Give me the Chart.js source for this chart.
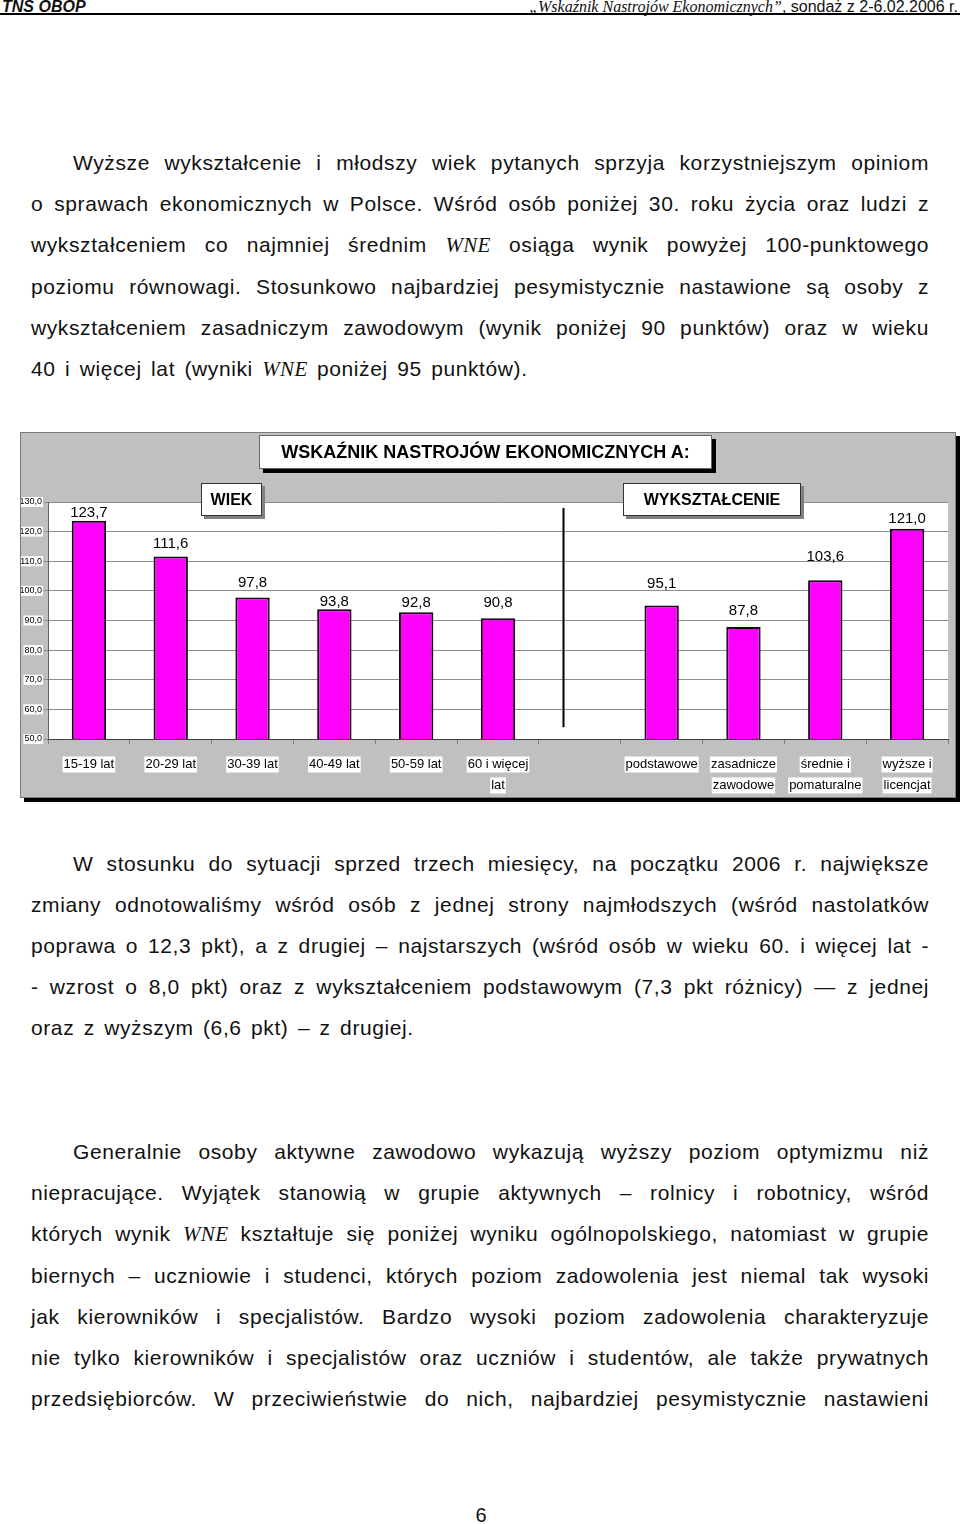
<!DOCTYPE html>
<html lang="pl">
<head>
<meta charset="utf-8">
<title>WNE – wiek i wykształcenie</title>
<script src="https://cdn.jsdelivr.net/npm/chart.js@4.4.1/dist/chart.umd.min.js"></script>
<style>
  body { margin: 0; background: #fff; }
  #page {
    position: relative; width: 960px; height: 1524px; overflow: hidden;
    font-family: "Liberation Sans", Arial, sans-serif; color: #111;
  }
  .hdr { position: absolute; top: -1px; font-size: 16px; line-height: 16px; white-space: nowrap; }
  .hdr-left { left: 2px; font-weight: bold; font-style: italic; }
  .hdr-right { right: 2px; }
  .serif-i { font-family: "Liberation Serif", "Times New Roman", serif; font-style: italic; }
  .rule { position: absolute; left: 0; top: 13px; width: 960px; height: 2px; background: #000; }

  .para {
    position: absolute; left: 31px; width: 898px; font-size: 21px; line-height: 41px;
    letter-spacing: 0.6px; word-spacing: 3px;
  }
  .ln { white-space: nowrap; text-align: justify; text-align-last: justify; }
  .ln.first { padding-left: 42px; }
  .ln.last { text-align-last: left; }
  .wne { font-family: "Liberation Serif", "Times New Roman", serif; font-style: italic; letter-spacing: 0.3px; }

  #chartBox {
    position: absolute; left: 20px; top: 432px; width: 934px; height: 364px;
    background: #c0c0c0; border: 1px solid #7a7a7a; box-shadow: 4px 4px 0 #000;
  }
  #chartBox canvas { position: absolute; left: 0; top: 0; }
  .tag {
    position: absolute; background: #fff; font-weight: bold; text-align: center;
    color: #000; white-space: nowrap;
  }
  #mainTitle {
    left: 238px; top: 2px; width: 451px; height: 32px; line-height: 32px; font-size: 18px;
    border: 1px solid #666; box-shadow: 4px 4px 0 #000;
  }
  #tagAge, #tagEdu {
    top: 50px; height: 31px; line-height: 31px; font-size: 16px;
    border: 1px solid #333; box-shadow: 3px 3px 0 #808080;
  }
  #tagAge { left: 180px; width: 59px; }
  #tagEdu { left: 602px; width: 176px; }
  #pageNo { position: absolute; left: 0; width: 962px; top: 1503px; text-align: center; font-size: 20px; line-height: 24px; }
</style>
</head>
<body>
<div id="page">
  <div class="hdr hdr-left">TNS OBOP</div>
  <div class="hdr hdr-right"><span class="serif-i">„Wskaźnik Nastrojów Ekonomicznych”</span>, sondaż z 2-6.02.2006 r.</div>
  <div class="rule"></div>

  <div class="para" style="top:142px">
    <div class="ln first">Wyższe wykształcenie i młodszy wiek pytanych sprzyja korzystniejszym opiniom</div>
    <div class="ln">o sprawach ekonomicznych w Polsce. Wśród osób poniżej 30. roku życia oraz ludzi z</div>
    <div class="ln">wykształceniem co najmniej średnim <span class="wne">WNE</span> osiąga wynik powyżej 100-punktowego</div>
    <div class="ln">poziomu równowagi. Stosunkowo najbardziej pesymistycznie nastawione są osoby z</div>
    <div class="ln">wykształceniem zasadniczym zawodowym (wynik poniżej 90 punktów) oraz w wieku</div>
    <div class="ln last">40 i więcej lat (wyniki <span class="wne">WNE</span> poniżej 95 punktów).</div>
  </div>

  <div id="chartBox">
    <canvas id="wneChart" width="934" height="364"></canvas>
    <div class="tag" id="mainTitle">WSKAŹNIK NASTROJÓW EKONOMICZNYCH A:</div>
    <div class="tag" id="tagAge">WIEK</div>
    <div class="tag" id="tagEdu">WYKSZTAŁCENIE</div>
  </div>

  <div class="para" style="top:843px">
    <div class="ln first">W stosunku do sytuacji sprzed trzech miesięcy, na początku 2006 r. największe</div>
    <div class="ln">zmiany odnotowaliśmy wśród osób z jednej strony najmłodszych (wśród nastolatków</div>
    <div class="ln">poprawa o 12,3 pkt), a z drugiej – najstarszych (wśród osób w wieku 60. i więcej lat -</div>
    <div class="ln">- wzrost o 8,0 pkt) oraz z wykształceniem podstawowym (7,3 pkt różnicy) — z jednej</div>
    <div class="ln last">oraz z wyższym (6,6 pkt) – z drugiej.</div>
  </div>

  <div class="para" style="top:1131px">
    <div class="ln first">Generalnie osoby aktywne zawodowo wykazują wyższy poziom optymizmu niż</div>
    <div class="ln">niepracujące. Wyjątek stanowią w grupie aktywnych – rolnicy i robotnicy, wśród</div>
    <div class="ln">których wynik <span class="wne">WNE</span> kształtuje się poniżej wyniku ogólnopolskiego, natomiast w grupie</div>
    <div class="ln">biernych – uczniowie i studenci, których poziom zadowolenia jest niemal tak wysoki</div>
    <div class="ln">jak kierowników i specjalistów. Bardzo wysoki poziom zadowolenia charakteryzuje</div>
    <div class="ln">nie tylko kierowników i specjalistów oraz uczniów i studentów, ale także prywatnych</div>
    <div class="ln">przedsiębiorców. W przeciwieństwie do nich, najbardziej pesymistycznie nastawieni</div>
  </div>

  <div id="pageNo">6</div>
</div>

<script>
// categories: 6 age groups, one empty gap, 4 education levels
const categories = [
  '15-19 lat', '20-29 lat', '30-39 lat', '40-49 lat', '50-59 lat', ['60 i więcej', 'lat'],
  '',
  'podstawowe', ['zasadnicze', 'zawodowe'], ['średnie i', 'pomaturalne'], ['wyższe i', 'licencjat']
];
const wneValues = [123.7, 111.6, 97.8, 93.8, 92.8, 90.8, null, 95.1, 87.8, 103.6, 121.0];
const yTicks = [50, 60, 70, 80, 90, 100, 110, 120, 130];

const FONT = '"Liberation Sans", Arial, sans-serif';
const fmt = v => v.toFixed(1).replace('.', ',');

// white plot area, label backdrops, value labels and the group separator
const decor = {
  id: 'decor',
  beforeDraw(chart, args, opts) {
    const { ctx, chartArea: a, scales: { x, y } } = chart;
    ctx.save();
    ctx.fillStyle = '#fff';
    ctx.fillRect(a.left, a.top, a.right - a.left, a.bottom - a.top);

    // the y labels sit on small white boxes
    ctx.font = '9px ' + FONT;
    y.ticks.forEach((t, i) => {
      const w = ctx.measureText(fmt(t.value)).width;
      const py = y.getPixelForTick(i);
      ctx.fillRect(y.right - 6 - w - 1, py - 5, w + 2, 10);
    });
    // same for the category labels
    ctx.font = '13px ' + FONT;
    categories.forEach((lab, i) => {
      const lines = Array.isArray(lab) ? lab : [lab];
      lines.forEach((ln, j) => {
        if (!ln) return;
        const w = ctx.measureText(ln).width;
        const cx = x.getPixelForTick(i);
        const cy = a.bottom + 15 + 21 * j + 10.5;
        ctx.fillRect(cx - w / 2 - 1, cy - 8, w + 2, 16);
      });
    });
    ctx.restore();
  },
  afterDatasetsDraw(chart, args, opts) {
    const { ctx, scales: { x, y } } = chart;
    const bars = chart.getDatasetMeta(0).data;
    ctx.save();
    ctx.font = '15px ' + FONT;
    ctx.fillStyle = '#000';
    ctx.textAlign = 'center';
    ctx.textBaseline = 'alphabetic';
    bars.forEach((bar, i) => {
      if (wneValues[i] == null) return;
      ctx.fillText(fmt(wneValues[i]), bar.x, bar.y - opts.lift[i]);
    });

    // vertical rule between the two groups
    const slot = x.getPixelForValue(1) - x.getPixelForValue(0);
    const sx = Math.round(x.getPixelForValue(6) - 0.2 * slot) + 0.5;
    ctx.strokeStyle = '#000';
    ctx.lineWidth = 2;
    ctx.beginPath();
    ctx.moveTo(sx, y.getPixelForValue(128));
    ctx.lineTo(sx, y.getPixelForValue(54));
    ctx.stroke();
    ctx.restore();
  }
};

new Chart(document.getElementById('wneChart'), {
  type: 'bar',
  data: {
    labels: categories,
    datasets: [{
      data: wneValues,
      backgroundColor: '#ff00ff',
      borderColor: '#1a001a',
      borderWidth: 2,
      borderSkipped: false,
      barPercentage: 0.42,
      categoryPercentage: 1
    }]
  },
  options: {
    responsive: false,
    animation: false,
    devicePixelRatio: 1,
    layout: { padding: { top: 69, right: 7, bottom: 0, left: 0 } },
    plugins: {
      legend: { display: false },
      tooltip: { enabled: false },
      decor: { lift: [4, 9, 10, 3, 5, 11, 0, 17, 12, 19, 6] }
    },
    scales: {
      x: {
        offset: true,
        grid: { offset: true, drawOnChartArea: false, drawTicks: true, tickLength: 5, color: '#808080' },
        border: { display: true, color: '#404040', width: 1 },
        ticks: {
          autoSkip: false, maxRotation: 0, padding: 10, color: '#000',
          font: { family: FONT, size: 13, lineHeight: '21px' }
        },
        afterFit: s => { s.height = 58; }
      },
      y: {
        min: 50, max: 130,
        afterBuildTicks: s => { s.ticks = yTicks.map(v => ({ value: v })); },
        grid: { color: '#8c8c8c', tickLength: 4, drawTicks: true },
        border: { display: true, color: '#606060', width: 1 },
        ticks: {
          padding: 2, color: '#000',
          font: { family: FONT, size: 9 },
          callback: v => fmt(v)
        },
        afterFit: s => { s.width = 27; }
      }
    }
  },
  plugins: [decor]
});
</script>
</body>
</html>
